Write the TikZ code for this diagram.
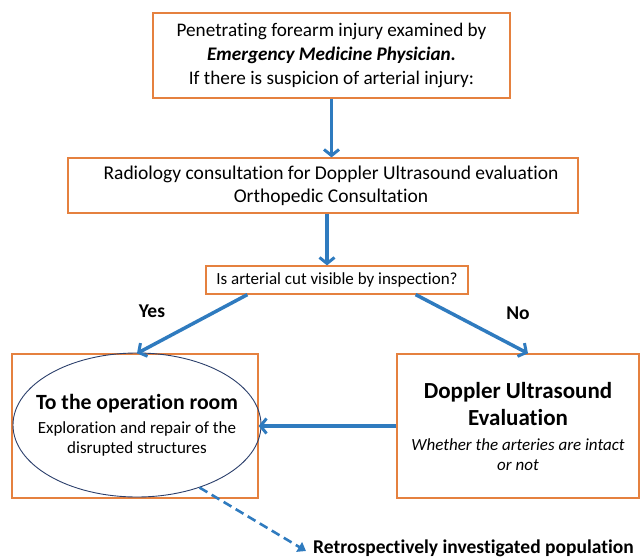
\documentclass[tikz,border=0pt]{standalone}
\usepackage{fontspec}
\setmainfont[Ligatures=NoCommon]{Carlito}
\usetikzlibrary{arrows.meta,shapes.geometric}
\definecolor{boxorange}{HTML}{E5813F}
\definecolor{flowblue}{HTML}{2F7BBF}
\definecolor{ovalnavy}{HTML}{2B3F6B}
\begin{document}
\begin{tikzpicture}[x=1pt,y=-1pt,
    box/.style={draw=boxorange, line width=1.2pt, inner sep=0pt, align=center},
    flow/.style={draw=flowblue, line width=3.5pt, -{Straight Barb[length=6pt,width=15pt,line width=3pt]}},
    lbl/.style={font=\fontsize{19.5}{23}\selectfont\bfseries, inner sep=0pt}]
    \useasboundingbox (0,0) rectangle (640,559);

    \node[box, minimum width=357pt, minimum height=85pt, font=\fontsize{19.2}{24}\selectfont] at (331.5,55.5) (exam)
        {Penetrating forearm injury examined by\\ \textbf{\textit{Emergency Medicine Physician.}}\\ If there is suspicion of arterial injury:};
    \node[box, minimum width=510pt, minimum height=55pt, font=\fontsize{19.5}{23}\selectfont] at (323,185.5) (consult)
        {\hspace*{16pt}Radiology consultation for Doppler Ultrasound evaluation\\ \hspace*{16pt}Orthopedic Consultation};
    \node[box, minimum width=262pt, minimum height=28pt, font=\fontsize{17}{20}\selectfont] at (337,280) (question)
        {Is arterial cut visible by inspection?};

    \node[box, minimum width=246pt, minimum height=144pt] at (135,426) (surgery) {};
    \node[ellipse, draw=ovalnavy, line width=0.9pt, minimum width=248pt, minimum height=144pt, inner sep=0pt] at (137,425) (oproom) {};
    \node[align=center, inner sep=0pt, font=\fontsize{17}{20}\selectfont] at (oproom.center) (optext)
        {{\fontsize{21.7}{26}\selectfont\bfseries To the operation room}\\[4pt]
         Exploration and repair of the\\
         disrupted structures};
    \node[box, minimum width=242pt, minimum height=144pt, font=\fontsize{17}{25}\selectfont] at (518,426) (doppler)
        {{\fontsize{23}{27}\selectfont\bfseries Doppler Ultrasound}\\[2pt]
         {\fontsize{23}{27}\selectfont\bfseries Evaluation}\\
         \textit{Whether the arteries are intact}\\[-5pt]
         \textit{or not}};

    \node[lbl] at (152,311) (yes) {Yes};
    \node[lbl] at (518,313) (no) {No};
    \node[lbl, anchor=west] at (313,548) (population) {Retrospectively investigated population};

    \draw[flow] (exam) -- (exam.south |- consult.north);
    \draw[flow] ([xshift=4pt]consult.south) -- ([xshift=-10pt]question.north);
    \draw[flow] ([xshift=42pt]question.south west) -- ([xshift=2pt]surgery.north);
    \draw[flow] ([xshift=-53pt]question.south east) -- ([xshift=10pt]doppler.north);
    \draw[flow] (doppler.west) -- (surgery.east);
    \draw[draw=flowblue, line width=2.6pt, dash pattern=on 9pt off 5pt,
          -{Triangle[length=8pt,width=11pt]}] (oproom.-45) -- ([xshift=-7pt,yshift=-3pt]population.west);
\end{tikzpicture}
\end{document}
